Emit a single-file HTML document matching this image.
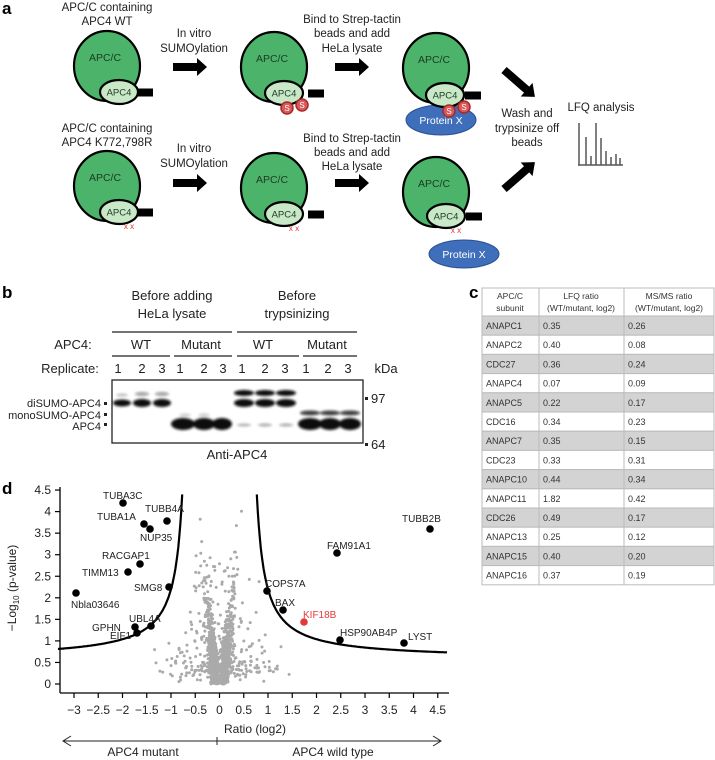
<!DOCTYPE html>
<html><head><meta charset="utf-8"><style>
html,body{margin:0;padding:0;background:#fff;}
body{width:715px;height:760px;overflow:hidden;}
svg{display:block;font-family:"Liberation Sans",Arial,sans-serif;}
</style></head><body>
<svg id="s" width="715" height="760" viewBox="0 0 715 760" xmlns="http://www.w3.org/2000/svg">
<defs>
<filter id="bl" x="-20%" y="-50%" width="140%" height="200%"><feGaussianBlur stdDeviation="1.2"/></filter>
<g id="arr"><polygon points="0,-4 24,-4 24,-9 34,0 24,9 24,4 0,4" fill="#000"/></g>
</defs>
<g font-weight="bold" font-size="17" fill="#000">
<text x="2" y="14">a</text><text x="2" y="298">b</text><text x="469" y="298">c</text><text x="2" y="494">d</text>
</g>
<g font-size="11.5" fill="#222" text-anchor="middle">
<text x="107" y="11">APC/C containing</text><text x="107" y="25">APC4 WT</text>
<text x="107" y="132">APC/C containing</text><text x="107" y="146">APC4 K772,798R</text>
<text x="194" y="37">In vitro</text><text x="194" y="52">SUMOylation</text>
<text x="194" y="152">In vitro</text><text x="194" y="167">SUMOylation</text>
<text x="352" y="23">Bind to Strep-tactin</text><text x="352" y="37">beads and add</text><text x="352" y="52">HeLa lysate</text>
<text x="352" y="142">Bind to Strep-tactin</text><text x="352" y="156">beads and add</text><text x="352" y="170">HeLa lysate</text>
<text x="527" y="117">Wash and</text><text x="527" y="132">trypsinize off</text><text x="527" y="146">beads</text>
<text x="601" y="111">LFQ analysis</text>
</g>
<use href="#arr" x="173" y="67"/><use href="#arr" x="335" y="67"/>
<use href="#arr" x="173" y="183"/><use href="#arr" x="335" y="183"/>
<g transform="translate(504,70) rotate(41)"><polygon points="0,-4 30,-4 30,-9 41,0 30,9 30,4 0,4" fill="#000"/></g>
<g transform="translate(504,189) rotate(-41)"><polygon points="0,-4 30,-4 30,-9 41,0 30,9 30,4 0,4" fill="#000"/></g>
<g stroke="#555" stroke-width="1.5">
<line x1="578" y1="165" x2="623" y2="165"/><line x1="579" y1="123" x2="579" y2="165"/>
<line x1="586" y1="137" x2="586" y2="165"/><line x1="591" y1="156" x2="591" y2="165"/>
<line x1="596" y1="123" x2="596" y2="165"/><line x1="601" y1="138" x2="601" y2="165"/>
<line x1="606" y1="151" x2="606" y2="165"/><line x1="611" y1="157" x2="611" y2="165"/>
<line x1="616" y1="154" x2="616" y2="165"/><line x1="620" y1="158" x2="620" y2="165"/>
</g>
<g id="cplx"></g>
<g font-size="13" fill="#222" text-anchor="middle">
<text x="172" y="300">Before adding</text><text x="172" y="318">HeLa lysate</text>
<text x="297" y="300">Before</text><text x="297" y="318">trypsinizing</text>
<text x="73" y="349">APC4:</text>
<text x="141" y="349">WT</text><text x="201" y="349">Mutant</text><text x="263" y="349">WT</text><text x="327" y="349">Mutant</text>
<text x="70" y="373">Replicate:</text>
<text x="118" y="373">1</text><text x="142" y="373">2</text><text x="162" y="373">3</text>
<text x="180" y="373">1</text><text x="204" y="373">2</text><text x="223" y="373">3</text>
<text x="242" y="373">1</text><text x="265" y="373">2</text><text x="285" y="373">3</text>
<text x="306" y="373">1</text><text x="328" y="373">2</text><text x="348" y="373">3</text>
<text x="386" y="373">kDa</text>
<text x="237" y="459">Anti-APC4</text>
</g>
<g stroke="#222" stroke-width="1.3">
<line x1="112" y1="332" x2="232" y2="332"/><line x1="237" y1="332" x2="357" y2="332"/>
<line x1="112" y1="356" x2="170" y2="356"/><line x1="174" y1="356" x2="232" y2="356"/>
<line x1="237" y1="356" x2="299" y2="356"/><line x1="303" y1="356" x2="357" y2="356"/>
</g>
<rect x="112" y="380" width="251" height="63" fill="#fff" stroke="#222" stroke-width="1.3"/>
<g font-size="11" fill="#222" text-anchor="end">
<text x="101" y="407">diSUMO-APC4</text><text x="101" y="419">monoSUMO-APC4</text><text x="101" y="430">APC4</text>
</g>
<g fill="#222"><rect x="104" y="402" width="3" height="3"/><rect x="104" y="413" width="3" height="3"/><rect x="104" y="423" width="3" height="3"/>
<rect x="365" y="397" width="3" height="3"/><rect x="365" y="443" width="3" height="3"/></g>
<g font-size="13" fill="#222"><text x="371" y="403">97</text><text x="371" y="449">64</text></g>
<g filter="url(#bl)" fill="#111">
<ellipse cx="122" cy="403" rx="9" ry="3.5"/><ellipse cx="142" cy="403" rx="9" ry="4"/><ellipse cx="162" cy="403" rx="9" ry="4"/>
<ellipse cx="122" cy="395" rx="6" ry="1.5" opacity=".25"/><ellipse cx="142" cy="394" rx="7" ry="2" opacity=".4"/><ellipse cx="162" cy="394" rx="7" ry="2" opacity=".4"/>
<ellipse cx="183" cy="424" rx="12" ry="6"/><ellipse cx="204" cy="424" rx="11" ry="6"/><ellipse cx="222" cy="424" rx="10" ry="6"/>
<ellipse cx="185" cy="415" rx="6" ry="1.5" opacity=".2"/><ellipse cx="204" cy="415" rx="6" ry="1.5" opacity=".2"/>
<ellipse cx="244" cy="393" rx="10" ry="3"/><ellipse cx="265" cy="393" rx="10" ry="3"/><ellipse cx="286" cy="393" rx="10" ry="3"/>
<ellipse cx="244" cy="403" rx="10" ry="4"/><ellipse cx="265" cy="403" rx="10" ry="4"/><ellipse cx="286" cy="403" rx="10" ry="4"/>
<ellipse cx="244" cy="425" rx="7" ry="1.5" opacity=".3"/><ellipse cx="265" cy="425" rx="7" ry="1.5" opacity=".35"/><ellipse cx="286" cy="425" rx="7" ry="1.5" opacity=".35"/>
<ellipse cx="310" cy="413" rx="10" ry="2.5" opacity=".8"/><ellipse cx="330" cy="413" rx="10" ry="2.5" opacity=".8"/><ellipse cx="350" cy="413" rx="10" ry="2.5" opacity=".8"/>
<ellipse cx="310" cy="424" rx="12" ry="6"/><ellipse cx="330" cy="424" rx="11" ry="6"/><ellipse cx="350" cy="424" rx="11" ry="6"/>
</g>
<g id="tbl"></g>
<g id="plot"></g>
</svg>
<script>
var NS="http://www.w3.org/2000/svg";
function el(p,t,a,txt){var e=document.createElementNS(NS,t);for(var k in a)e.setAttribute(k,a[k]);if(txt!==undefined)e.textContent=txt;p.appendChild(e);return e;}
var C=document.getElementById('cplx');
function cplx(cx,cy,ax,ay,rx,mut){
 el(C,'ellipse',{cx:cx,cy:cy,rx:33,ry:35,fill:'#4cb46a',stroke:'#000','stroke-width':2.2});
 el(C,'rect',{x:rx,y:ay-3.5,width:16,height:8,fill:'#000'});
 el(C,'ellipse',{cx:ax,cy:ay,rx:19,ry:12,fill:'#c8e8c8',stroke:'#000','stroke-width':2.2});
 el(C,'text',{x:cx-2,y:cy-5,'font-size':10.5,'text-anchor':'middle',fill:'#1d3a22'},'APC/C');
 el(C,'text',{x:ax,y:ay+3.5,'font-size':9.5,'text-anchor':'middle',fill:'#1d3a22'},'APC4');
 if(mut){el(C,'text',{x:ax+10,y:ay+17,'font-size':8,'text-anchor':'middle',fill:'#d33'},'x x');}
}
cplx(107,66,119,92,137,0);cplx(274,67,284,93,308,0);cplx(436,68,445,95,465,0);
cplx(107,186,119,212,137,1);cplx(274,188,284,214,308,1);cplx(436,192,446,216,466,1);
function px(cx,cy,ry){el(C,'ellipse',{cx:cx,cy:cy,rx:35,ry:ry,fill:'#3f6fba',stroke:'#2a5090','stroke-width':1});
 el(C,'text',{x:cx,y:cy+4,'font-size':10.5,'text-anchor':'middle',fill:'#fff'},'Protein X');}
px(441,120,15);px(464,254,14);
el(C,'ellipse',{cx:445,cy:95,rx:19,ry:12,fill:'#c8e8c8',stroke:'#000','stroke-width':2.2});
el(C,'text',{x:445,y:98.5,'font-size':9.5,'text-anchor':'middle',fill:'#1d3a22'},'APC4');
function S(x,y){el(C,'circle',{cx:x,cy:y,r:6,fill:'#d65a5a',stroke:'#a82828','stroke-width':1.5});
 el(C,'text',{x:x,y:y+3,'font-size':8,'text-anchor':'middle',fill:'#fff'},'S');}
S(287,108);S(302,105);S(449,111);S(464,107);
var T=document.getElementById('tbl');
var rows=[["ANAPC1","0.35","0.26"],["ANAPC2","0.40","0.08"],["CDC27","0.36","0.24"],["ANAPC4","0.07","0.09"],["ANAPC5","0.22","0.17"],["CDC16","0.34","0.23"],["ANAPC7","0.35","0.15"],["CDC23","0.33","0.31"],["ANAPC10","0.44","0.34"],["ANAPC11","1.82","0.42"],["CDC26","0.49","0.17"],["ANAPC13","0.25","0.12"],["ANAPC15","0.40","0.20"],["ANAPC16","0.37","0.19"]];
var X0=482,X1=539,X2=624,X3=714,Y0=288,YH=316,RH=19.2;
el(T,'rect',{x:X0,y:Y0,width:X3-X0,height:YH-Y0,fill:'#fff',stroke:'#bbb'});
rows.forEach(function(r,i){var y=YH+i*RH;el(T,'rect',{x:X0,y:y,width:X3-X0,height:RH,fill:i%2==0?'#d3d3d3':'#fff',stroke:'#bbb','stroke-width':1});
 [X0,X1,X2].forEach(function(x,j){el(T,'text',{x:x+4,y:y+13,'font-size':9,fill:'#333'},r[j]);});});
el(T,'line',{x1:X1,y1:Y0,x2:X1,y2:YH+14*RH,stroke:'#bbb'});el(T,'line',{x1:X2,y1:Y0,x2:X2,y2:YH+14*RH,stroke:'#bbb'});
[[510,"APC/C","subunit"],[581,"LFQ ratio","(WT/mutant, log2)"],[669,"MS/MS ratio","(WT/mutant, log2)"]].forEach(function(h){
 el(T,'text',{x:h[0],y:Y0+11,'font-size':8.5,'text-anchor':'middle',fill:'#333'},h[1]);
 el(T,'text',{x:h[0],y:Y0+23,'font-size':8.5,'text-anchor':'middle',fill:'#333'},h[2]);});
var P=document.getElementById('plot');
function fx(x){return 219.5+48.5*x;} function fy(y){return 684-43.1*y;}
function cur(ax){return 0.575+0.65/(ax-0.6);}
var seed=12345;function rnd(){seed=(seed*1103515245+12345)%2147483648;return seed/2147483648;}
function gs(){return Math.sqrt(-2*Math.log(rnd()+1e-9))*Math.cos(6.283*rnd());}
var g=el(P,'g',{fill:'#aaa'});
for(var i=0;i<1400;i++){var y,x;
 if(i<1100){y=Math.abs(gs())*0.75; if(rnd()<0.15)y*=1.8; var sg=rnd()<0.5?-1:1; x=sg*(0.03+y*0.09+Math.abs(gs())*0.05)+gs()*0.03;}
 else if(i<1300){y=Math.abs(gs())*0.35+rnd()*0.4; x=gs()*0.6;}
 else {y=rnd()*2.6+0.4;x=gs()*0.35;}
 if(y<0||y>4.35)continue; var ax=Math.abs(x); if(ax>0.78 && y>cur(ax)-0.05)continue; if(ax>2)continue;
 el(g,'circle',{cx:fx(x).toFixed(1),cy:fy(y).toFixed(1),r:1.5});}
var d1="",d2="";for(var a=0.77;a<=3.35;a+=0.02){d1+=(d1?"L":"M")+fx(-a).toFixed(1)+","+fy(cur(a)).toFixed(1);}
for(var a=0.77;a<=4.7;a+=0.02){d2+=(d2?"L":"M")+fx(a).toFixed(1)+","+fy(cur(a)).toFixed(1);}
el(P,'path',{d:d1,fill:'none',stroke:'#000','stroke-width':2.2});el(P,'path',{d:d2,fill:'none',stroke:'#000','stroke-width':2.2});
el(P,'line',{x1:60,y1:487,x2:60,y2:693,stroke:'#000','stroke-width':1.3});
el(P,'line',{x1:60,y1:693,x2:449,y2:693,stroke:'#000','stroke-width':1.3});
for(var v=0;v<=4.5;v+=0.5){var yy=fy(v);el(P,'line',{x1:55,y1:yy,x2:60,y2:yy,stroke:'#000','stroke-width':1.2});
 el(P,'text',{x:51,y:yy+4,'font-size':12,'text-anchor':'end',fill:'#222'},String(v));}
for(var v=-3;v<=4.5;v+=0.5){var xx=fx(v);el(P,'line',{x1:xx,y1:693,x2:xx,y2:698,stroke:'#000','stroke-width':1.2});
 el(P,'text',{x:xx,y:714,'font-size':12,'text-anchor':'middle',fill:'#222'},(v<0?'\u2212':'')+String(Math.abs(v)));}
el(P,'text',{x:255,y:733,'font-size':12,'text-anchor':'middle',fill:'#222'},'Ratio (log2)');
var yl=el(P,'text',{x:0,y:0,'font-size':12,'text-anchor':'middle',fill:'#222',transform:'translate(16,588) rotate(-90)'});
yl.innerHTML='\u2212Log<tspan font-size="8" dy="3">10</tspan><tspan dy="-3"> (p-value)</tspan>';
el(P,'line',{x1:64,y1:741,x2:440,y2:741,stroke:'#222','stroke-width':1});
el(P,'path',{d:'M71,736 L63,741 L71,746 M433,736 L441,741 L433,746 M217,737 L217,745',fill:'none',stroke:'#222','stroke-width':1});
el(P,'text',{x:143,y:756,'font-size':12,'text-anchor':'middle',fill:'#222'},'APC4 mutant');
el(P,'text',{x:333,y:756,'font-size':12,'text-anchor':'middle',fill:'#222'},'APC4 wild type');
var pts=[[123,503,'TUBA3C',103,499],[144,524,'TUBA1A',97,520],[150,529,'NUP35',140,541],[167,521,'TUBB4A',145,512],
[140,564,'RACGAP1',102,559],[128,572,'TIMM13',82,576],[169,587,'SMG8',134,591],[76,593,'Nbla03646',71,608],
[135,627,'GPHN',92,631],[151,626,'UBL4A',129,622],[137,633,'EIF1',110,639],[430,529,'TUBB2B',402,522],
[337,553,'FAM91A1',327,549],[267,591,'COPS7A',265,587],[283,610,'BAX',275,606],[340,640,'HSP90AB4P',340,636],[404,643,'LYST',408,640]];
pts.forEach(function(p){el(P,'circle',{cx:p[0],cy:p[1],r:3.8,fill:'#000'});el(P,'text',{x:p[3],y:p[4],'font-size':10,fill:'#222'},p[2]);});
el(P,'circle',{cx:304,cy:622,r:3.8,fill:'#e03a3a'});el(P,'text',{x:303,y:618,'font-size':10,fill:'#e03a3a'},'KIF18B');
</script>
</body></html>
